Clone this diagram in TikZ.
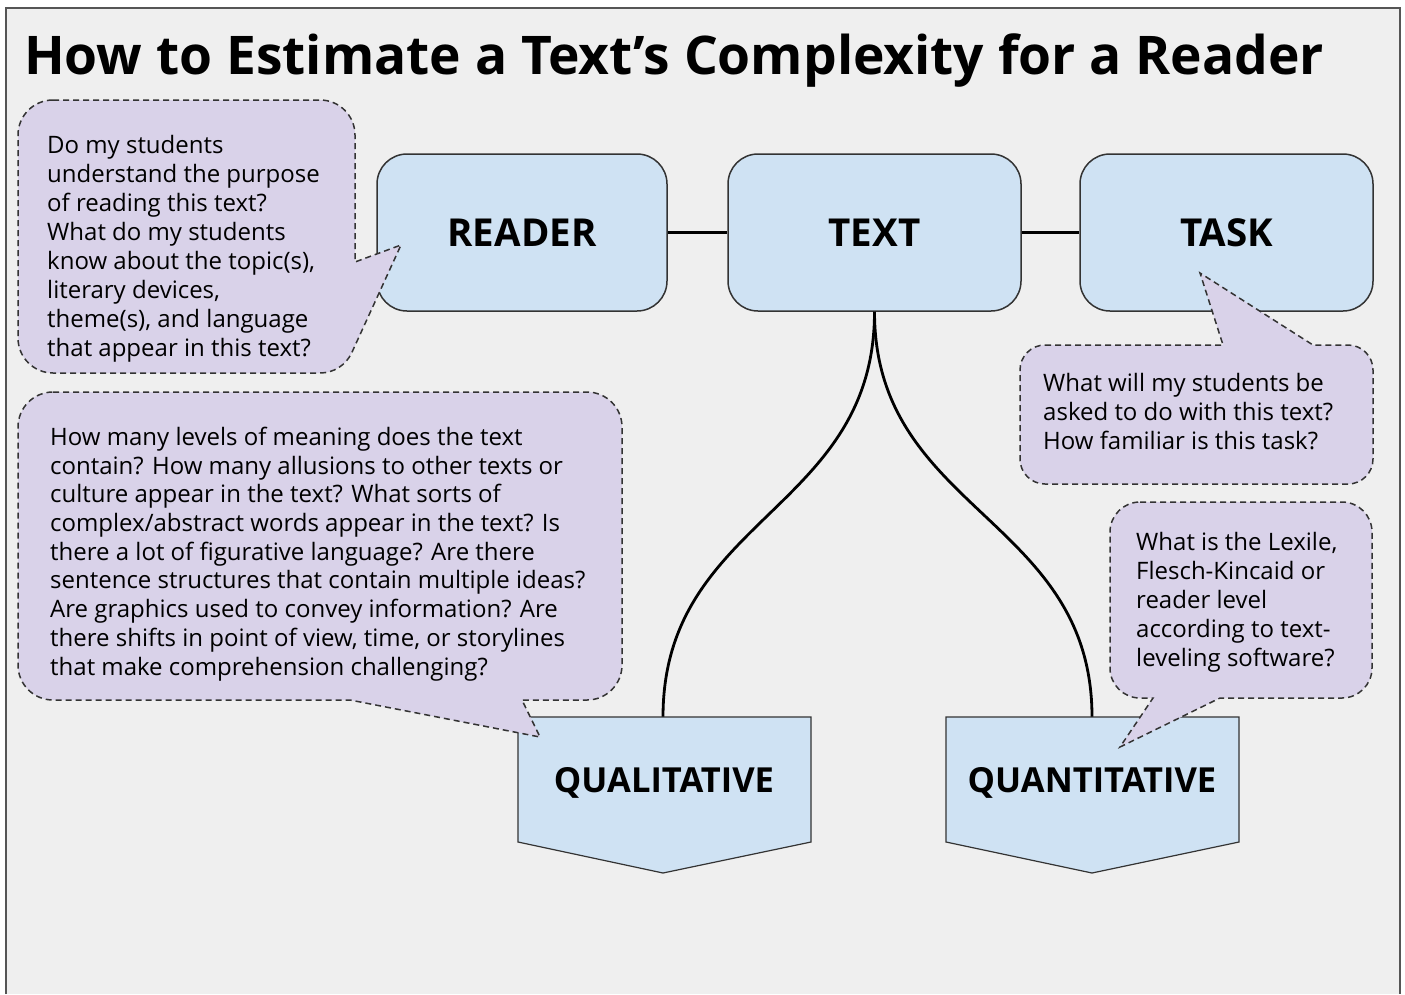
\documentclass[tikz,border=0pt]{standalone}
\usepackage{fontspec}
\setmainfont{Open Sans}
\definecolor{boxblue}{HTML}{CFE2F3}
\definecolor{cpurple}{HTML}{D9D2E9}
\definecolor{bggray}{HTML}{EFEFEF}
\definecolor{edgegray}{HTML}{333333}
\definecolor{framegray}{HTML}{555555}
\tikzset{
  mainbox/.style={draw=edgegray, line width=1.5pt, fill=boxblue, rounded corners=30pt, minimum height=157pt, inner sep=0pt, font=\bfseries\fontsize{38.5}{40}\selectfont, text depth=0pt},
  pentlabel/.style={inner sep=0pt, font=\bfseries\fontsize{34.5}{36}\selectfont, text depth=0pt},
  pentshape/.style={draw=edgegray, line width=1.2pt, fill=boxblue},
  link/.style={line width=2.8pt, black},
  callout/.style={draw=edgegray, fill=cpurple, line width=1.5pt, dash pattern=on 6pt off 4pt},
  calltext/.style={anchor=base west, inner sep=0pt, align=left, font=\fontsize{24}{29}\selectfont},
}
\begin{document}
\begin{tikzpicture}[x=1pt,y=-1pt]
\useasboundingbox (0,0) rectangle (1405,994);
\fill[white] (0,0) rectangle (1405,994);
\fill[bggray] (6,8) rectangle (1400,994);
\draw[framegray, line width=2pt] (6,994) -- (6,8) -- (1400,8) -- (1400,994);

\node[anchor=base west, inner sep=0pt, font=\bfseries\fontsize{53.3}{60}\selectfont] (title) at (24,74) {How to Estimate a Text’s Complexity for a Reader};

% main boxes
\node[mainbox, minimum width=290pt] (reader) at (522,232.5) {READER};
\node[mainbox, minimum width=293pt] (text) at (874.5,232.5) {TEXT};
\node[mainbox, minimum width=293pt] (task) at (1226.5,232.5) {TASK};
\draw[link] (reader) -- (text);
\draw[link] (text) -- (task);

% lower shapes
\coordinate (qualtop) at (663,717);
\coordinate (quanttop) at (1092,717);
\draw[link] (text.south) .. controls +(0,200) and +(0,-200) .. (qualtop);
\draw[link] (text.south) .. controls +(0,200) and +(0,-200) .. (quanttop);
\draw[pentshape] (518,717) -- (811,717) -- (811,842) -- (663,873) -- (518,842) -- cycle;
\draw[pentshape] (946,717) -- (1239,717) -- (1239,842) -- (1092,873) -- (946,842) -- cycle;
\node[pentlabel] (qual) at (664,780) {QUALITATIVE};
\node[pentlabel] (quant) at (1092,780) {QUANTITATIVE};

% callouts
\draw[callout] (53,100) -- (320,100) arc[start angle=270, end angle=360, radius=35] -- (355,262) -- (401,245) -- ({320+35*cos(25)},{338+35*sin(25)}) arc[start angle=25, end angle=90, radius=35] -- (53,373) arc[start angle=90, end angle=180, radius=35] -- (18,135) arc[start angle=180, end angle=270, radius=35] -- cycle;
\draw[callout] (53,392) -- (587,392) arc[start angle=270, end angle=360, radius=35] -- (622,665) arc[start angle=0, end angle=90, radius=35] -- (522,700) -- (540,737) -- (350,700) -- (53,700) arc[start angle=90, end angle=180, radius=35] -- (18,427) arc[start angle=180, end angle=270, radius=35] -- cycle;
\draw[callout] (1045,345) -- (1223,345) -- (1200,273) -- (1313,345) -- (1348,345) arc[start angle=270, end angle=360, radius=25] -- (1373,459) arc[start angle=0, end angle=90, radius=25] -- (1045,484) arc[start angle=90, end angle=180, radius=25] -- (1020,370) arc[start angle=180, end angle=270, radius=25] -- cycle;
\draw[callout] (1140,502) -- (1342,502) arc[start angle=270, end angle=360, radius=30] -- (1372,668) arc[start angle=0, end angle=90, radius=30] -- (1220,698) -- (1120,747) -- (1153,698) -- (1140,698) arc[start angle=90, end angle=180, radius=30] -- (1110,532) arc[start angle=180, end angle=270, radius=30] -- cycle;

% callout texts (anchored at the baseline of their last line)
\node[calltext] (readerq) at (47,356) {Do my students\\understand the purpose\\of reading this text?\\What do my students\\know about the topic(s),\\literary devices,\\theme(s), and language\\that appear in this text?};
\node[calltext, font=\fontsize{24}{28.7}\selectfont] (qualq) at (50,675) {How many levels of meaning does the text\\contain? How many allusions to other texts or\\culture appear in the text? What sorts of\\complex/abstract words appear in the text? Is\\there a lot of figurative language? Are there\\sentence structures that contain multiple ideas?\\Are graphics used to convey information? Are\\there shifts in point of view, time, or storylines\\that make comprehension challenging?};
\node[calltext] (taskq) at (1043,449) {What will my students be\\asked to do with this text?\\How familiar is this task?};
\node[calltext] (quantq) at (1136,666) {What is the Lexile,\\Flesch-Kincaid or\\reader level\\according to text-\\leveling software?};
\end{tikzpicture}
\end{document}
